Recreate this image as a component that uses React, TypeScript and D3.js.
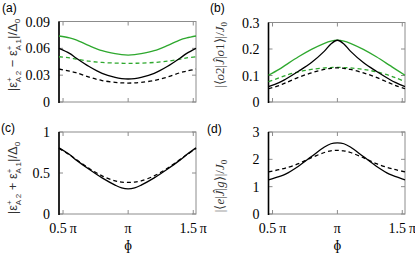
import React from 'react';
import * as d3 from 'd3';

// phi in units of pi
const PHI = [0.469, 0.55, 0.6, 0.7, 0.8, 0.9, 0.95, 1.0, 1.05, 1.1, 1.2, 1.3, 1.4, 1.45, 1.521];

// (a) |e2 - e1| / Delta0
const aGreenSolid = [0.0738, 0.0716, 0.0695, 0.0630, 0.0574, 0.0540, 0.0529, 0.0525, 0.0529, 0.0540, 0.0574, 0.0630, 0.0695, 0.0716, 0.0738];
const aBlackSolid = [0.0600, 0.0544, 0.0492, 0.0397, 0.0321, 0.0276, 0.0262, 0.0257, 0.0262, 0.0276, 0.0321, 0.0397, 0.0492, 0.0544, 0.0600];
const aGreenDashed = [0.0506, 0.0493, 0.0480, 0.0456, 0.0442, 0.0435, 0.0433, 0.0432, 0.0433, 0.0435, 0.0442, 0.0456, 0.0480, 0.0493, 0.0506];
const aBlackDashed = [0.0369, 0.0345, 0.0328, 0.0278, 0.0240, 0.0220, 0.0214, 0.0212, 0.0214, 0.0220, 0.0240, 0.0278, 0.0328, 0.0345, 0.0369];

// (b) |<o2|J|o1>| / J0
const bGreenSolid = [0.1010, 0.1230, 0.1390, 0.1705, 0.1985, 0.2215, 0.2300, 0.2335, 0.2300, 0.2215, 0.1985, 0.1705, 0.1390, 0.1230, 0.1010];
const bBlackSolid = [0.058, 0.073, 0.086, 0.116, 0.149, 0.192, 0.219, 0.233, 0.219, 0.192, 0.149, 0.116, 0.086, 0.073, 0.058];
const bGreenDashed = [0.077, 0.091, 0.100, 0.114, 0.123, 0.1285, 0.130, 0.131, 0.130, 0.1285, 0.123, 0.114, 0.100, 0.091, 0.077];
const bBlackDashed = [0.050, 0.062, 0.072, 0.093, 0.110, 0.123, 0.127, 0.129, 0.127, 0.123, 0.110, 0.093, 0.072, 0.062, 0.050];

// (c) |e2 + e1| / Delta0
const cSolid = [0.806, 0.725, 0.660, 0.545, 0.440, 0.352, 0.318, 0.306, 0.318, 0.352, 0.440, 0.545, 0.660, 0.725, 0.806];
const cDashed = [0.800, 0.722, 0.666, 0.556, 0.465, 0.404, 0.389, 0.385, 0.389, 0.404, 0.465, 0.556, 0.666, 0.722, 0.800];

// (d) |<e|J|g>| / J0
const dSolid = [1.25, 1.37, 1.46, 1.75, 2.10, 2.45, 2.57, 2.60, 2.57, 2.45, 2.10, 1.75, 1.46, 1.37, 1.25];
const dDashed = [1.54, 1.62, 1.68, 1.84, 2.06, 2.25, 2.31, 2.33, 2.31, 2.25, 2.06, 1.84, 1.68, 1.62, 1.54];

const xTicks = [0.5, 1, 1.5];
const xTickLabels = ['0.5\u2009π', 'π', '1.5\u2009π'];
const aTicks = ['0', '0.03', '0.06', '0.09'];
const bTicks = ['0', '0.1', '0.2', '0.3'];
const cTicks = ['0', '0.5', '1'];
const dTicks = ['0', '1', '2', '3'];

const GREEN = '#2ea82e';
const BLACK = '#000';
const FRAME = '#8c8c8c';
const SERIF = '"Liberation Serif", "Times New Roman", serif';
const SANS = '"Liberation Sans", Arial, sans-serif';

const W = 415;
const H = 257;

type Series = { values: number[]; color: string; dashed: boolean };

function EpsLabel({ op }: { op: string }) {
  const s = 8;
  return (
    <>
      <tspan>|ε</tspan>
      <tspan fontSize={s} dy={-5}>+</tspan>
      <tspan fontSize={s} dx={-5} dy={9}>A 2</tspan>
      <tspan dy={-4}>{` ${op} ε`}</tspan>
      <tspan fontSize={s} dy={-5}>+</tspan>
      <tspan fontSize={s} dx={-5} dy={9}>A 1</tspan>
      <tspan dy={-4}>|/Δ</tspan>
      <tspan fontSize={s} dy={3}>0</tspan>
    </>
  );
}

function O2Label() {
  return (
    <>
      <tspan>|⟨</tspan>
      <tspan fontStyle="italic">o</tspan>
      <tspan>2|</tspan>
      <tspan fontStyle="italic">Ĵ</tspan>
      <tspan>|</tspan>
      <tspan fontStyle="italic">o</tspan>
      <tspan>1⟩|/</tspan>
      <tspan fontStyle="italic">J</tspan>
      <tspan fontSize={9} dy={3}>0</tspan>
    </>
  );
}

function EgLabel() {
  return (
    <>
      <tspan>|⟨</tspan>
      <tspan fontStyle="italic">e</tspan>
      <tspan>|</tspan>
      <tspan fontStyle="italic">Ĵ</tspan>
      <tspan>|</tspan>
      <tspan fontStyle="italic">g</tspan>
      <tspan>⟩|/</tspan>
      <tspan fontStyle="italic">J</tspan>
      <tspan fontSize={9} dy={3}>0</tspan>
    </>
  );
}

type PanelProps = {
  letter: string;
  letterPos: [number, number];
  box: { x0: number; x1: number; y0: number; y1: number };
  yMax: number;
  yTicks: string[];
  series: Series[];
  label: React.ReactNode;
  labelPos: [number, number];
  labelFont: string;
  labelSize: number;
  showX: boolean;
};

function Panel(p: PanelProps) {
  const { box } = p;
  const x = d3.scaleLinear().domain([0.469, 1.521]).range([box.x0, box.x1]);
  const y = d3.scaleLinear().domain([0, p.yMax]).range([box.y1, box.y0]);
  const line = d3
    .line<number>()
    .x((_, i) => x(PHI[i]))
    .y((d) => y(d))
    .curve(d3.curveCatmullRom.alpha(0.5));
  const tl = 4;

  return (
    <g>
      <text x={p.letterPos[0]} y={p.letterPos[1]} fontFamily={SANS} fontSize={12}>
        {p.letter}
      </text>
      <rect x={box.x0} y={box.y0} width={box.x1 - box.x0} height={box.y1 - box.y0} fill="none" stroke={FRAME} strokeWidth={1} />
      {xTicks.map((t) => (
        <g key={'x' + t} stroke={FRAME}>
          <line x1={x(t)} x2={x(t)} y1={box.y1} y2={box.y1 - tl} />
          <line x1={x(t)} x2={x(t)} y1={box.y0} y2={box.y0 + tl} />
        </g>
      ))}
      {p.yTicks.map((t) => (
        <g key={'y' + t}>
          <line x1={box.x0} x2={box.x0 + tl} y1={y(+t)} y2={y(+t)} stroke={FRAME} />
          <line x1={box.x1} x2={box.x1 - tl} y1={y(+t)} y2={y(+t)} stroke={FRAME} />
          <text x={box.x0 - 9} y={y(+t) + 5} textAnchor="end" fontFamily={SERIF} fontSize={14}>
            {t}
          </text>
        </g>
      ))}
      <line x1={box.x0} x2={box.x0} y1={box.y0} y2={box.y1 + 1} stroke={BLACK} strokeWidth={1.6} />
      {p.series.map((s, i) => (
        <path
          key={i}
          d={line(s.values) ?? ''}
          fill="none"
          stroke={s.color}
          strokeWidth={1.3}
          strokeDasharray={s.dashed ? '4,3' : undefined}
        />
      ))}
      {p.showX &&
        xTicks.map((t, i) => (
          <text key={'xl' + t} x={x(t)} y={box.y1 + 19} textAnchor="middle" fontFamily={SERIF} fontSize={14}>
            {xTickLabels[i]}
          </text>
        ))}
      {p.showX && (
        <text x={x(1)} y={box.y1 + 36} textAnchor="middle" fontFamily={SERIF} fontSize={14}>
          {'\u0278'}
        </text>
      )}
      <text
        transform={`translate(${p.labelPos[0]},${p.labelPos[1]}) rotate(-90)`}
        textAnchor="middle"
        fontFamily={p.labelFont}
        fontSize={p.labelSize}
        fill="#333"
      >
        {p.label}
      </text>
    </g>
  );
}

export default function App() {
  return (
    <svg width={W} height={H} style={{ position: 'absolute', left: 0, top: 0, background: '#fff' }}>
      <Panel
        letter="(a)"
        letterPos={[2, 12]}
        box={{ x0: 59, x1: 196, y0: 21.5, y1: 102 }}
        yMax={0.09}
        yTicks={aTicks}
        series={[
          { values: aGreenSolid, color: GREEN, dashed: false },
          { values: aGreenDashed, color: GREEN, dashed: true },
          { values: aBlackSolid, color: BLACK, dashed: false },
          { values: aBlackDashed, color: BLACK, dashed: true },
        ]}
        label={<EpsLabel op="−" />}
        labelPos={[17, 55]}
        labelFont={SANS}
        labelSize={13}
        showX={false}
      />
      <Panel
        letter="(b)"
        letterPos={[210, 12]}
        box={{ x0: 268.5, x1: 405, y0: 22.5, y1: 102 }}
        yMax={0.3}
        yTicks={bTicks}
        series={[
          { values: bGreenSolid, color: GREEN, dashed: false },
          { values: bGreenDashed, color: GREEN, dashed: true },
          { values: bBlackSolid, color: BLACK, dashed: false },
          { values: bBlackDashed, color: BLACK, dashed: true },
        ]}
        label={<O2Label />}
        labelPos={[224, 55]}
        labelFont={SERIF}
        labelSize={13}
        showX={false}
      />
      <Panel
        letter="(c)"
        letterPos={[1, 132]}
        box={{ x0: 59, x1: 196, y0: 132, y1: 214 }}
        yMax={1}
        yTicks={cTicks}
        series={[
          { values: cSolid, color: BLACK, dashed: false },
          { values: cDashed, color: BLACK, dashed: true },
        ]}
        label={<EpsLabel op="+" />}
        labelPos={[17, 178]}
        labelFont={SANS}
        labelSize={13}
        showX={true}
      />
      <Panel
        letter="(d)"
        letterPos={[207, 133]}
        box={{ x0: 268.5, x1: 405, y0: 132, y1: 214 }}
        yMax={3}
        yTicks={dTicks}
        series={[
          { values: dSolid, color: BLACK, dashed: false },
          { values: dDashed, color: BLACK, dashed: true },
        ]}
        label={<EgLabel />}
        labelPos={[224, 186]}
        labelFont={SERIF}
        labelSize={13}
        showX={true}
      />
    </svg>
  );
}
